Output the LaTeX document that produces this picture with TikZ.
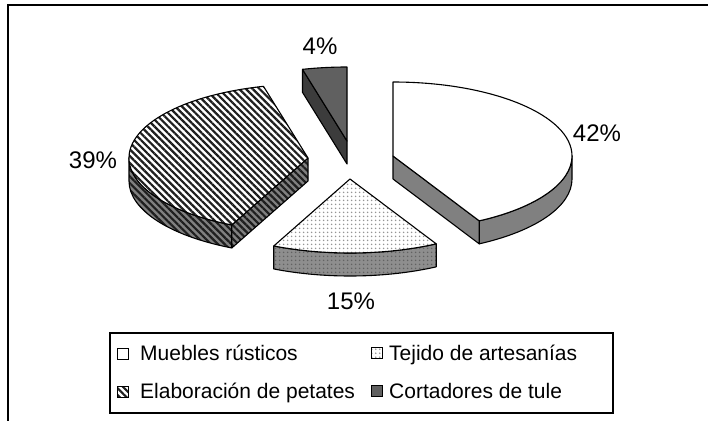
\documentclass[tikz,border=0pt]{standalone}
\usepackage{fontspec}
\setmainfont{Liberation Sans}
\usetikzlibrary{patterns.meta}
\definecolor{sideg}{HTML}{808080}
\definecolor{tdot}{HTML}{959595}
\definecolor{tsidebg}{HTML}{8E8E8E}
\definecolor{tsidedot}{HTML}{626262}
\definecolor{stripe}{HTML}{1E1E1E}
\definecolor{ctop}{HTML}{606060}
\definecolor{cside}{HTML}{3C3C3C}
\tikzset{
  ell/.style={x radius=179pt,y radius=74pt},
  edge/.style={draw=black,line width=1.1pt,line join=round},
  mtop/.style={edge,fill=white},
  mside/.style={edge,fill=sideg},
  ttop/.style={edge,preaction={fill=white},pattern={Dots[radius=1pt,distance=4pt]},pattern color=tdot},
  tside/.style={edge,preaction={fill=tsidebg},pattern={Dots[radius=1pt,distance=4pt]},pattern color=tsidedot},
  etop/.style={edge,preaction={fill=white},pattern={Lines[angle=-45,distance=4.8pt,line width=2.2pt]},pattern color=stripe},
  eside/.style={edge,preaction={fill=sideg},pattern={Lines[angle=-45,distance=4.8pt,line width=2.2pt]},pattern color=stripe},
  ctopst/.style={edge,fill=ctop},
  csidest/.style={edge,fill=cside},
  lab/.style={inner sep=0pt,font=\fontsize{24}{28}\selectfont},
  legtext/.style={inner sep=0pt,anchor=base west,font=\fontsize{21}{25}\selectfont},
  mk/.style={draw=black,line width=0.9pt,minimum size=11pt,inner sep=0pt},
}
\begin{document}
\begin{tikzpicture}[x=1pt,y=-1pt]
\useasboundingbox (0,0) rectangle (708,420);
% outer frame (right and bottom edges lie outside the picture)
\draw[line width=2pt] (8,430) -- (8,5) -- (720,5);

% slice centres
\coordinate (M) at (393,156);
\coordinate (T) at (350,179);
\coordinate (E) at (308,158);
\coordinate (C) at (347,141);
% rim points
\coordinate (Ma) at ([shift={(M)}]90:179pt and 74pt);
\coordinate (M0) at ([shift={(M)}]0:179pt and 74pt);
\coordinate (Mb) at ([shift={(M)}]-61.2:179pt and 74pt);
\coordinate (Ta) at ([shift={(T)}]244.8:179pt and 74pt);
\coordinate (Tb) at ([shift={(T)}]298.8:179pt and 74pt);
\coordinate (Ea) at ([shift={(E)}]104.4:179pt and 74pt);
\coordinate (E0) at ([shift={(E)}]180:179pt and 74pt);
\coordinate (Eb) at ([shift={(E)}]244.8:179pt and 74pt);
\coordinate (Ca) at ([shift={(C)}]90:179pt and 74pt);
\coordinate (Cb) at ([shift={(C)}]104.4:179pt and 74pt);

% Muebles rusticos 42%
\path[mside] (M0) arc[ell,start angle=0,end angle=-61.2] -- ++(0,23) arc[ell,start angle=-61.2,end angle=0] -- cycle;
\path[mside] (M) -- (Mb) -- ([yshift=-23pt]Mb) -- ([yshift=-23pt]M) -- cycle;
\path[mtop] (M) -- (Ma) arc[ell,start angle=90,end angle=-61.2] -- cycle;

% Tejido de artesanias 15%
\path[tside] (Ta) arc[ell,start angle=244.8,end angle=298.8] -- ++(0,23) arc[ell,start angle=298.8,end angle=244.8] -- cycle;
\path[ttop] (T) -- (Ta) arc[ell,start angle=244.8,end angle=298.8] -- cycle;

% Elaboracion de petates 39%
\path[eside] (E0) arc[ell,start angle=180,end angle=244.8] -- ++(0,23) arc[ell,start angle=244.8,end angle=180] -- cycle;
\path[eside] (E) -- (Eb) -- ([yshift=-23pt]Eb) -- ([yshift=-23pt]E) -- cycle;
\path[etop] (E) -- (Ea) arc[ell,start angle=104.4,end angle=244.8] -- cycle;

% Cortadores de tule 4%
\path[csidest] (C) -- (Cb) -- ([yshift=-23pt]Cb) -- ([yshift=-23pt]C) -- cycle;
\path[ctopst] (C) -- (Ca) arc[ell,start angle=90,end angle=104.4] -- cycle;

% percentage labels
\node[lab] (l42) at (597,133) {42\%};
\node[lab] (l39) at (93,160) {39\%};
\node[lab] (l15) at (351,301) {15\%};
\node[lab] (l4) at (320,46) {4\%};

% legend
\node[draw=black,line width=1.4pt,minimum width=503pt,minimum height=80pt,inner sep=0pt] (legend) at (361.5,373) {};
\node[mk,fill=white] (k1) at (123,354) {};
\node[mk,preaction={fill=white},pattern={Dots[radius=1pt,distance=4pt]},pattern color=tdot] (k2) at (377,353) {};
\node[mk,preaction={fill=white},pattern={Lines[angle=-45,distance=4.8pt,line width=2.2pt]},pattern color=stripe] (k3) at (123,392) {};
\node[mk,fill=ctop] (k4) at (377,391) {};
\node[legtext] (t1) at (140,360) {Muebles rústicos};
\node[legtext] (t2) at (389,360) {Tejido de artesanías};
\node[legtext] (t3) at (140,398) {Elaboración de petates};
\node[legtext] (t4) at (389,398) {Cortadores de tule};
\end{tikzpicture}
\end{document}
